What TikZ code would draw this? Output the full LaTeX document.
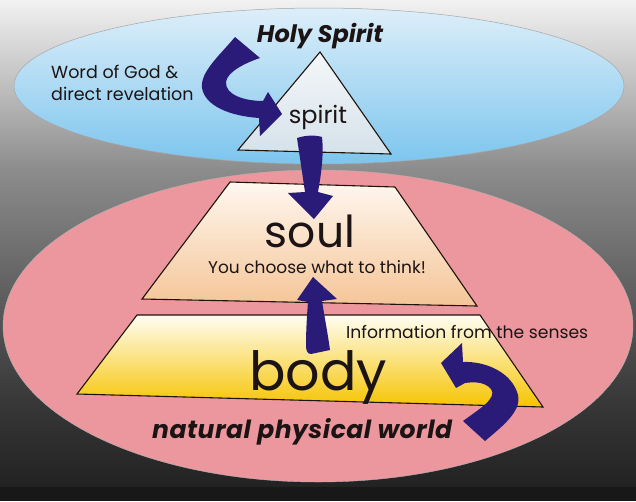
\documentclass[tikz,border=0pt]{standalone}
\usepackage{fontspec}
\setmainfont{Poppins}
\definecolor{arrowc}{RGB}{42,27,120}
\definecolor{bgA}{HTML}{F2F2F2}
\definecolor{bgB}{HTML}{8C8C8C}
\definecolor{bgC}{HTML}{383838}
\definecolor{bgD}{HTML}{222222}
\definecolor{bgE}{HTML}{181818}
\definecolor{skyT}{HTML}{DDEEF9}
\definecolor{skyB}{HTML}{7CC5EE}
\definecolor{pinkc}{HTML}{EB979D}
\definecolor{triT}{HTML}{F4F7F9}
\definecolor{triB}{HTML}{D5E2EA}
\definecolor{soulT}{HTML}{FFF7EF}
\definecolor{soulB}{HTML}{F4C597}
\definecolor{bodyT}{HTML}{FFFDF2}
\definecolor{bodyB}{HTML}{F6C400}
\definecolor{ink}{HTML}{1C1414}
\begin{document}
\begin{tikzpicture}[x=1pt,y=-1pt,
  txt/.style={inner sep=0pt,anchor=base,text=ink},
  ltxt/.style={inner sep=0pt,anchor=base west,text=ink},
  blockarrow/.style={fill=arrowc,draw=none},
  shapeline/.style={draw=black!85!brown,line width=1.1pt,line join=miter}]
\useasboundingbox (0,0) rectangle (636,501);
% background
\shade[top color=bgA,bottom color=bgB] (0,0) rectangle (636,170);
\shade[top color=bgB,bottom color=bgC] (0,169.5) rectangle (636,400);
\shade[top color=bgC,bottom color=bgD] (0,399.5) rectangle (636,487);
\fill[bgE] (0,487) rectangle (636,501);
% ellipses
\shade[top color=skyT,bottom color=skyB] (319,86) ellipse [x radius=305,y radius=78];
\draw[gray!70,line width=0.5pt] (319,86) ellipse [x radius=305,y radius=78];
\fill[pinkc] (318,326) ellipse [x radius=315,y radius=156];
\draw[gray!60,line width=0.4pt] (318,326) ellipse [x radius=315,y radius=156];
% triangle
\shade[top color=triT,bottom color=triB] (320,52) -- (238,150) -- (391,154) -- cycle;
\draw[shapeline] (320,52) -- (238,150) -- (391,154) -- cycle;
% soul
\shade[top color=soulT,bottom color=soulB] (230,182) -- (395,187) -- (477,306) -- (142,299) -- cycle;
\draw[shapeline] (230,182) -- (395,187) -- (477,306) -- (142,299) -- cycle;
% body
\shade[top color=bodyT,bottom color=bodyB] (137,315) -- (480,315) -- (543,407) -- (77,394) -- cycle;
\draw[shapeline] (137,315) -- (480,315) -- (543,407) -- (77,394) -- cycle;
% texts
\node[txt,font=\bfseries\itshape\fontsize{24}{28}\selectfont] (holy) at (320,42) {Holy Spirit};
\node[ltxt,font=\fontsize{17.5}{20}\selectfont] (word1) at (51,78) {Word of God \&};
\node[ltxt,font=\fontsize{17.5}{20}\selectfont] (word2) at (51,100) {direct revelation};
\node[txt,font=\fontsize{24}{28}\selectfont] (spirit) at (318,123) {spirit};
\node[txt,text depth=0pt,font=\fontsize{44}{50}\selectfont] (soul) at (310,247) {soul};
\node[txt,text height=13pt,font=\fontsize{17}{20}\selectfont] (choose) at (317,273) {You choose what to think!};
\node[txt,font=\fontsize{54}{60}\selectfont] (body) at (318,390) {body};
\node[ltxt,font=\fontsize{17.2}{20}\selectfont] (info) at (346,338) {Information from the senses};
\node[ltxt,font=\bfseries\itshape\fontsize{25}{28}\selectfont\addfontfeature{LetterSpace=2}] (world) at (152,438) {natural physical world};
% arrow 1: word of God to spirit
\fill[blockarrow] (235,37) .. controls (220,55) and (200,72) .. (202,88)
  .. controls (205,106) and (230,116) .. (259,118)
  -- (260,136) -- (282,114) -- (268,92) -- (263,101)
  .. controls (245,101) and (225,95) .. (226,82)
  .. controls (227,72) and (245,63) .. (260,58) -- cycle;
% arrow 2: spirit to soul
\fill[blockarrow] (297,138) .. controls (306,135) and (316,135) .. (322,137)
  .. controls (324,155) and (321,175) .. (318,192)
  -- (333,196) -- (314,219) -- (288,193) -- (305,192) -- cycle;
% arrow 3: body to soul
\fill[blockarrow] (313,277) -- (337,299) -- (322,301)
  .. controls (325,320) and (328,335) .. (330,350)
  -- (311,354) .. controls (307,354) and (306,350) .. (306,345)
  .. controls (306,330) and (307,315) .. (308,302) -- (297,300) -- cycle;
% arrow 4: senses to body
\fill[blockarrow] (441,363) -- (462,343) -- (463,362)
  .. controls (485,361) and (512,372) .. (518,395)
  .. controls (522,412) and (500,428) .. (485,441)
  -- (463,421)
  .. controls (478,410) and (498,398) .. (491,389)
  .. controls (484,381) and (472,382) .. (465,383)
  -- (456,388) -- cycle;
\end{tikzpicture}
\end{document}
